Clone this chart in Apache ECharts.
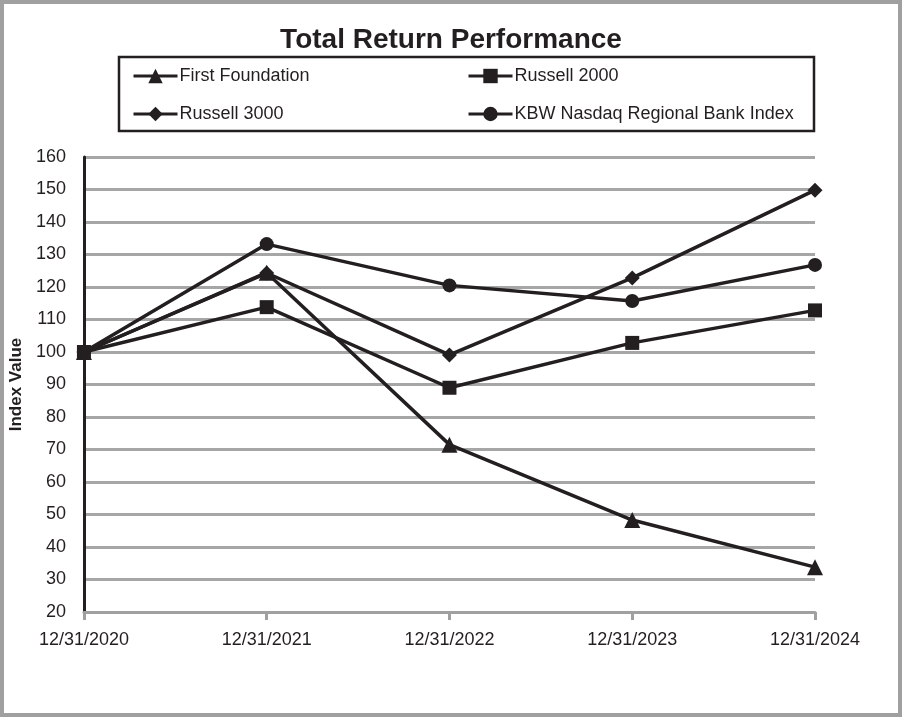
<!DOCTYPE html>
<html><head><meta charset="utf-8">
<script src="https://cdn.jsdelivr.net/npm/echarts@6/dist/echarts.min.js"></script>
<style>html,body{margin:0;padding:0;background:#fff}#c{width:902px;height:717px}</style>
</head><body><div id="c"></div>
<script>
const categories = ['12/31/2020','12/31/2021','12/31/2022','12/31/2023','12/31/2024'];
const firstFoundation = [100, 124.4, 71.5, 48.3, 33.8];
const russell2000 = [100, 113.8, 89.0, 102.8, 112.8];
const russell3000 = [100, 124.3, 99.1, 122.8, 149.8];
const kbwRegional = [100, 133.2, 120.5, 115.7, 126.8];
const seriesNames = ['First Foundation','Russell 2000','Russell 3000','KBW Nasdaq Regional Bank Index'];
const yTicks = {min: 20, max: 160, interval: 10};

const FONT = '"Liberation Sans", Arial, sans-serif';
const chart = echarts.init(document.getElementById('c'), null, {renderer: 'canvas'});

function lineSeries(name, data, symbol, size) {
  return {
    name, type: 'line', data, symbol, symbolSize: size,
    lineStyle: {color: '#231f20', width: 3.5},
    itemStyle: {color: '#231f20', borderWidth: 0},
    showAllSymbol: true, animation: false
  };
}
function legendAt(name, left, top) {
  return {
    data: [name], left, top, itemWidth: 44, itemHeight: 18, itemGap: 0, padding: 0,
    lineStyle: {width: 3, color: '#231f20'},
    itemStyle: {color: '#231f20'},
    textStyle: {fontFamily: FONT, fontSize: 18, color: '#231f20', padding: [0,0,0,-3]},
    selectedMode: false
  };
}

chart.setOption({
  backgroundColor: '#fff',
  animation: false,
  title: {
    text: 'Total Return Performance', left: 'center', top: 21,
    textStyle: {fontFamily: FONT, fontSize: 28, fontWeight: 'bold', color: '#231f20'}
  },
  graphic: [
    {type: 'rect', shape: {x: 2, y: 2, width: 898, height: 713}, style: {fill: 'none', stroke: '#a0a0a0', lineWidth: 4}, silent: true},
    {type: 'rect', shape: {x: 119, y: 57, width: 695, height: 74}, style: {fill: 'none', stroke: '#231f20', lineWidth: 2.5}, silent: true}
  ],
  legend: [
    legendAt(seriesNames[0], 132, 67),
    legendAt(seriesNames[1], 467, 67),
    legendAt(seriesNames[2], 132, 105),
    legendAt(seriesNames[3], 467, 105)
  ],
  grid: {left: 83, right: 87, top: 157, bottom: 105, containLabel: false},
  xAxis: {
    type: 'category', data: categories, boundaryGap: false,
    axisLine: {lineStyle: {color: '#a0a0a0', width: 3}},
    axisTick: {alignWithLabel: true, length: 8, lineStyle: {color: '#a0a0a0', width: 3}},
    axisLabel: {fontFamily: FONT, fontSize: 18, color: '#231f20', margin: 19},
    splitLine: {show: false}
  },
  yAxis: {
    type: 'value', min: yTicks.min, max: yTicks.max, interval: yTicks.interval,
    name: 'Index Value', nameLocation: 'middle', nameGap: 55, nameRotate: 90,
    nameTextStyle: {fontFamily: FONT, fontSize: 17, fontWeight: 'bold', color: '#231f20'},
    axisLine: {show: true, lineStyle: {color: '#231f20', width: 3}},
    axisTick: {show: false},
    axisLabel: {fontFamily: FONT, fontSize: 18, color: '#231f20', margin: 18},
    splitLine: {lineStyle: {color: '#a6a6a6', width: 3}}
  },
  series: [
    lineSeries(seriesNames[0], firstFoundation, 'triangle', 16),
    lineSeries(seriesNames[2], russell3000, 'diamond', 15),
    lineSeries(seriesNames[3], kbwRegional, 'circle', 14),
    lineSeries(seriesNames[1], russell2000, 'rect', 14)
  ]
});
</script>
</body></html>
